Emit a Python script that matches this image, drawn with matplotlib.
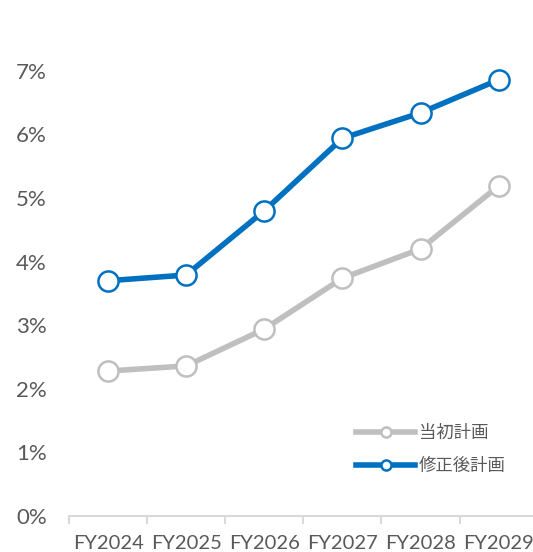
import matplotlib.pyplot as plt
from matplotlib.ticker import FuncFormatter, FixedLocator

plt.rcParams['font.family'] = ['Lato', 'Noto Sans CJK JP', 'DejaVu Sans']

years = ['FY2024', 'FY2025', 'FY2026', 'FY2027', 'FY2028', 'FY2029']
initial_plan = [2.28, 2.36, 2.94, 3.74, 4.20, 5.19]
revised_plan = [3.70, 3.79, 4.80, 5.94, 6.34, 6.86]

text_color = '#595959'
gray = '#BFBFBF'
blue = '#0070C0'

fig = plt.figure(figsize=(5.33, 5.52), dpi=100)
ax = fig.add_axes([0.1295, 0.0652, 0.8705, 0.864])

x = range(len(years))
ax.plot(x, initial_plan, color=gray, lw=4, marker='o', ms=14.5,
        mfc='white', mec=gray, mew=1.8, label='当初計画', zorder=3)
ax.plot(x, revised_plan, color=blue, lw=4, marker='o', ms=14.5,
        mfc='white', mec=blue, mew=1.8, label='修正後計画', zorder=3)

ax.set_xlim(-0.5, 5.44)
ax.set_ylim(0, 7.5)
ax.set_yticks(range(0, 8))
ax.yaxis.set_major_formatter(FuncFormatter(lambda v, p: f'{v:.0f}%'))
ax.set_xticks(list(x))
ax.set_xticklabels(years)
ax.xaxis.set_minor_locator(FixedLocator([i - 0.5 for i in range(7)]))

for side in ['top', 'right', 'left']:
    ax.spines[side].set_visible(False)
ax.spines['bottom'].set_color('#D9D9D9')
ax.spines['bottom'].set_linewidth(1.5)

ax.tick_params(axis='y', length=0, labelsize=16, labelcolor=text_color, pad=16)
ax.tick_params(axis='x', which='major', length=0, labelsize=14.5,
               labelcolor=text_color, pad=14)
ax.tick_params(axis='x', which='minor', length=6, width=1.5, color='#D9D9D9')

leg = ax.legend(loc='lower right', bbox_to_anchor=(0.975, 0.055), frameon=False,
                fontsize=12.5, labelcolor=text_color, handlelength=3.4,
                markerscale=0.5, labelspacing=1.0, handletextpad=0.2)

fig.savefig('out.png', dpi=100)
